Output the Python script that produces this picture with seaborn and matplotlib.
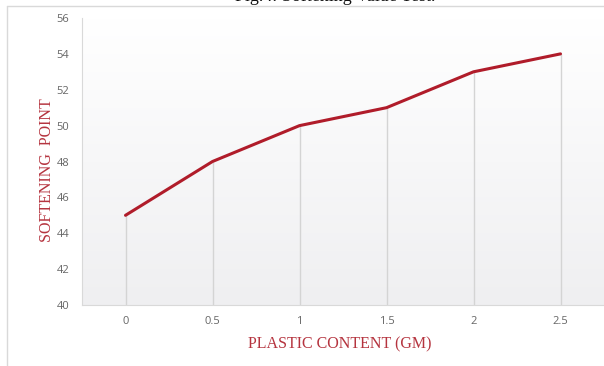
import numpy as np
import matplotlib
matplotlib.use("Agg")
import matplotlib.pyplot as plt
from matplotlib.lines import Line2D
import pandas as pd
import seaborn as sns

# Softening point measured against plastic content
plastic_content = [0, 0.5, 1, 1.5, 2, 2.5]
softening_point = [45, 48, 50, 51, 53, 54]
y_ticks = [40, 42, 44, 46, 48, 50, 52, 54, 56]
x_tick_labels = ["0", "0.5", "1", "1.5", "2", "2.5"]

df = pd.DataFrame({"content": plastic_content, "softening": softening_point})

sns.set_theme(style="white")
plt.rcParams["font.family"] = ["Open Sans", "DejaVu Sans"]

fig = plt.figure(figsize=(6.04, 3.66), dpi=100)
ax = fig.add_axes([82 / 604, 1 - 305 / 366, (604 - 82) / 604, 287 / 366])

# soft white (top) to grey (bottom) gradient behind the plot area
grad = np.linspace(0.0, 1.0, 256).reshape(-1, 1)
ax.imshow(grad, extent=[-0.25, 2.75, 40, 56], aspect="auto",
          cmap=matplotlib.colors.LinearSegmentedColormap.from_list(
              "bg", ["#efeff1", "#ffffff"]),
          origin="lower", zorder=0, vmin=0, vmax=1)

# drop lines from each point to the axis
ax.vlines(df["content"], 40, df["softening"], color="#d4d4d4", lw=1.0, zorder=1)

sns.lineplot(data=df, x="content", y="softening", ax=ax, color="#b01c2a",
             lw=2.2, zorder=3)

ax.set_xlim(-0.25, 2.75)
ax.set_ylim(40, 56)
ax.set_xticks(plastic_content)
ax.set_xticklabels(x_tick_labels)
ax.set_yticks(y_ticks)
ax.tick_params(axis="both", length=0, labelsize=8, labelcolor="#666666")
ax.tick_params(axis="x", pad=8)
ax.tick_params(axis="y", pad=9)

for side in ["top", "right"]:
    ax.spines[side].set_visible(False)
for side in ["left", "bottom"]:
    ax.spines[side].set_color("#d9d9d9")
    ax.spines[side].set_linewidth(0.8)

ax.set_xlabel("")
ax.set_ylabel("")

serif = ["Liberation Serif", "DejaVu Serif"]
fig.text(340 / 604, 1 - 344 / 366, "PLASTIC CONTENT (GM)", ha="center",
         va="center", fontsize=11.5, color="#b5343f", family=serif)
fig.text(47 / 604, 1 - 170 / 366, "SOFTENING  POINT", ha="center",
         va="center", rotation=90, fontsize=11.5, color="#b5343f", family=serif)

# caption above the chart, running off the top edge
fig.text(335 / 604, 1 - 1 / 366, "Fig.4: Softening Value Test.", ha="center",
         va="baseline", fontsize=13, color="#111111", family=serif)

# chart frame lines
fig.add_artist(Line2D([7 / 604, 7 / 604], [0, 1 - 6 / 366],
                      transform=fig.transFigure, color="#d9d9d9", lw=1))
fig.add_artist(Line2D([7 / 604, 1], [1 - 6 / 366, 1 - 6 / 366],
                      transform=fig.transFigure, color="#d9d9d9", lw=1))

fig.savefig("out.png", dpi=100)
